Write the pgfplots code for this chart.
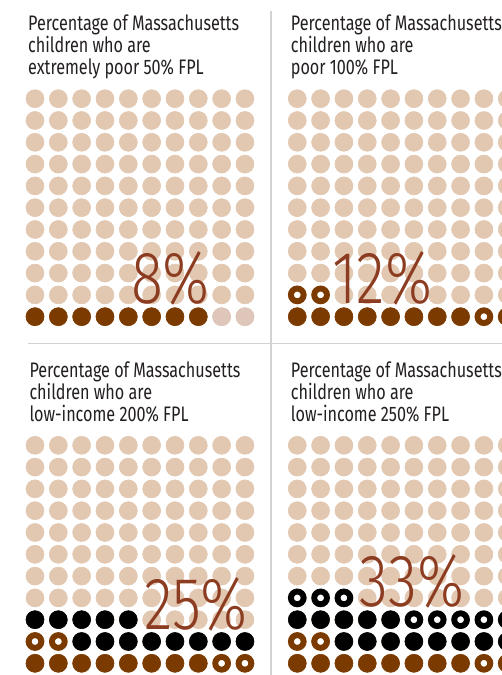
\documentclass[border=0pt]{standalone}
\usepackage{pgfplots}
\pgfplotsset{compat=1.18}
\usepackage{pgfplotstable}
\usepackage{fontspec}
\setmainfont{Fira Sans}[FakeStretch=0.77]
\newfontfamily\pctfont{Fira Sans Light}[FakeStretch=0.8]

\definecolor{dotlight}{RGB}{226,199,177}
\definecolor{dotpale}{RGB}{222,198,186}
\definecolor{brownfill}{RGB}{123,58,0}
\definecolor{pcttext}{RGB}{140,60,32}
\definecolor{rulegray}{RGB}{210,210,210}
\definecolor{titletext}{RGB}{35,31,32}

% full 10 x 11 grid of background dots
\pgfplotstableread[row sep=\\]{
x y\\
1 1\\ 2 1\\ 3 1\\ 4 1\\ 5 1\\ 6 1\\ 7 1\\ 8 1\\ 9 1\\ 10 1\\
1 2\\ 2 2\\ 3 2\\ 4 2\\ 5 2\\ 6 2\\ 7 2\\ 8 2\\ 9 2\\ 10 2\\
1 3\\ 2 3\\ 3 3\\ 4 3\\ 5 3\\ 6 3\\ 7 3\\ 8 3\\ 9 3\\ 10 3\\
1 4\\ 2 4\\ 3 4\\ 4 4\\ 5 4\\ 6 4\\ 7 4\\ 8 4\\ 9 4\\ 10 4\\
1 5\\ 2 5\\ 3 5\\ 4 5\\ 5 5\\ 6 5\\ 7 5\\ 8 5\\ 9 5\\ 10 5\\
1 6\\ 2 6\\ 3 6\\ 4 6\\ 5 6\\ 6 6\\ 7 6\\ 8 6\\ 9 6\\ 10 6\\
1 7\\ 2 7\\ 3 7\\ 4 7\\ 5 7\\ 6 7\\ 7 7\\ 8 7\\ 9 7\\ 10 7\\
1 8\\ 2 8\\ 3 8\\ 4 8\\ 5 8\\ 6 8\\ 7 8\\ 8 8\\ 9 8\\ 10 8\\
1 9\\ 2 9\\ 3 9\\ 4 9\\ 5 9\\ 6 9\\ 7 9\\ 8 9\\ 9 9\\ 10 9\\
1 10\\ 2 10\\ 3 10\\ 4 10\\ 5 10\\ 6 10\\ 7 10\\ 8 10\\ 9 10\\ 10 10\\
1 11\\ 2 11\\ 3 11\\ 4 11\\ 5 11\\ 6 11\\ 7 11\\ 8 11\\ 9 11\\ 10 11\\
}\gridpts

% extremely poor (50% FPL): 8 filled brown
\pgfplotstableread[row sep=\\]{
x y\\ 1 1\\ 2 1\\ 3 1\\ 4 1\\ 5 1\\ 6 1\\ 7 1\\ 8 1\\
}\xpoor
% poor (100% FPL) extra: 4 brown rings
\pgfplotstableread[row sep=\\]{
x y\\ 9 1\\ 10 1\\ 1 2\\ 2 2\\
}\poorrings
% low-income (200% FPL) extra: 13 black dots
\pgfplotstableread[row sep=\\]{
x y\\ 3 2\\ 4 2\\ 5 2\\ 6 2\\ 7 2\\ 8 2\\ 9 2\\ 10 2\\ 1 3\\ 2 3\\ 3 3\\ 4 3\\ 5 3\\
}\lowblack
% low-income (250% FPL) extra: 8 black rings
\pgfplotstableread[row sep=\\]{
x y\\ 6 3\\ 7 3\\ 8 3\\ 9 3\\ 10 3\\ 1 4\\ 2 4\\ 3 4\\
}\lowrings

\pgfplotsset{
  waffle/.style={x=23.33pt, y=21.8pt, xmin=0.5, xmax=10.5, ymin=0.5, ymax=11.5,
    hide axis, clip=false, anchor=south west},
  dot/.style={only marks, mark=*, mark size=9.0pt, color=#1,
    mark options={draw=#1, fill=#1, line width=0.6pt}},
  ring/.style={only marks, mark=*, mark size=6.35pt, color=#1,
    mark options={draw=#1, fill=white, line width=5.9pt}},
}

\newcommand\ptitle[4]{%
  \node[anchor=base west, inner sep=0, text=titletext] at (#1,#2) {Percentage of Massachusetts};
  \node[anchor=base west, inner sep=0, text=titletext] at (#1,#2-22) {children who are};
  \node[anchor=base west, inner sep=0, text=titletext] at (#1,#2-44) {#3};
  \node[anchor=base, inner sep=0, text=pcttext, font=\pctfont\fontsize{74}{74}\selectfont] at #4;
}

\begin{document}
\begin{tikzpicture}[x=1pt, y=1pt, font=\fontsize{21}{22}\selectfont]
\useasboundingbox (0,0) rectangle (502,675);
\clip (0,0) rectangle (502,675);

\draw[rulegray, line width=1.3pt] (271,0) -- (271,664);
\draw[rulegray, line width=1.3pt] (28,331.7) -- (502,331.7);

% top left: 50% FPL
\begin{axis}[waffle, at={(23.33pt,347.4pt)}]
\addplot[dot=dotlight] table {\gridpts};
\addplot[dot=dotpale] coordinates {(9,1) (10,1)};
\addplot[dot=brownfill] table {\xpoor};
\end{axis}
\ptitle{28}{644}{extremely poor 50\% FPL}{(170.5,371.7) {8\%}}

% top right: 100% FPL
\begin{axis}[waffle, at={(285.6pt,347.4pt)}]
\addplot[dot=dotlight] table {\gridpts};
\addplot[dot=brownfill] table {\xpoor};
\addplot[ring=brownfill] table {\poorrings};
\end{axis}
\ptitle{290.7}{644}{poor 100\% FPL}{(382.2,371.7) {12\%}}

% bottom left: 200% FPL
\begin{axis}[waffle, at={(23.33pt,0.8pt)}]
\addplot[dot=dotlight] table {\gridpts};
\addplot[dot=brownfill] table {\xpoor};
\addplot[ring=brownfill] table {\poorrings};
\addplot[dot=black] table {\lowblack};
\end{axis}
\ptitle{29.3}{297}{low-income 200\% FPL}{(195.8,45.7) {25\%}}

% bottom right: 250% FPL
\begin{axis}[waffle, at={(285.6pt,0.8pt)}]
\addplot[dot=dotlight] table {\gridpts};
\addplot[dot=brownfill] table {\xpoor};
\addplot[ring=brownfill] table {\poorrings};
\addplot[dot=black] table {\lowblack};
\addplot[ring=black] table {\lowrings};
\end{axis}
\ptitle{290.7}{297}{low-income 250\% FPL}{(411.7,68.3) {33\%}}

\end{tikzpicture}
\end{document}
